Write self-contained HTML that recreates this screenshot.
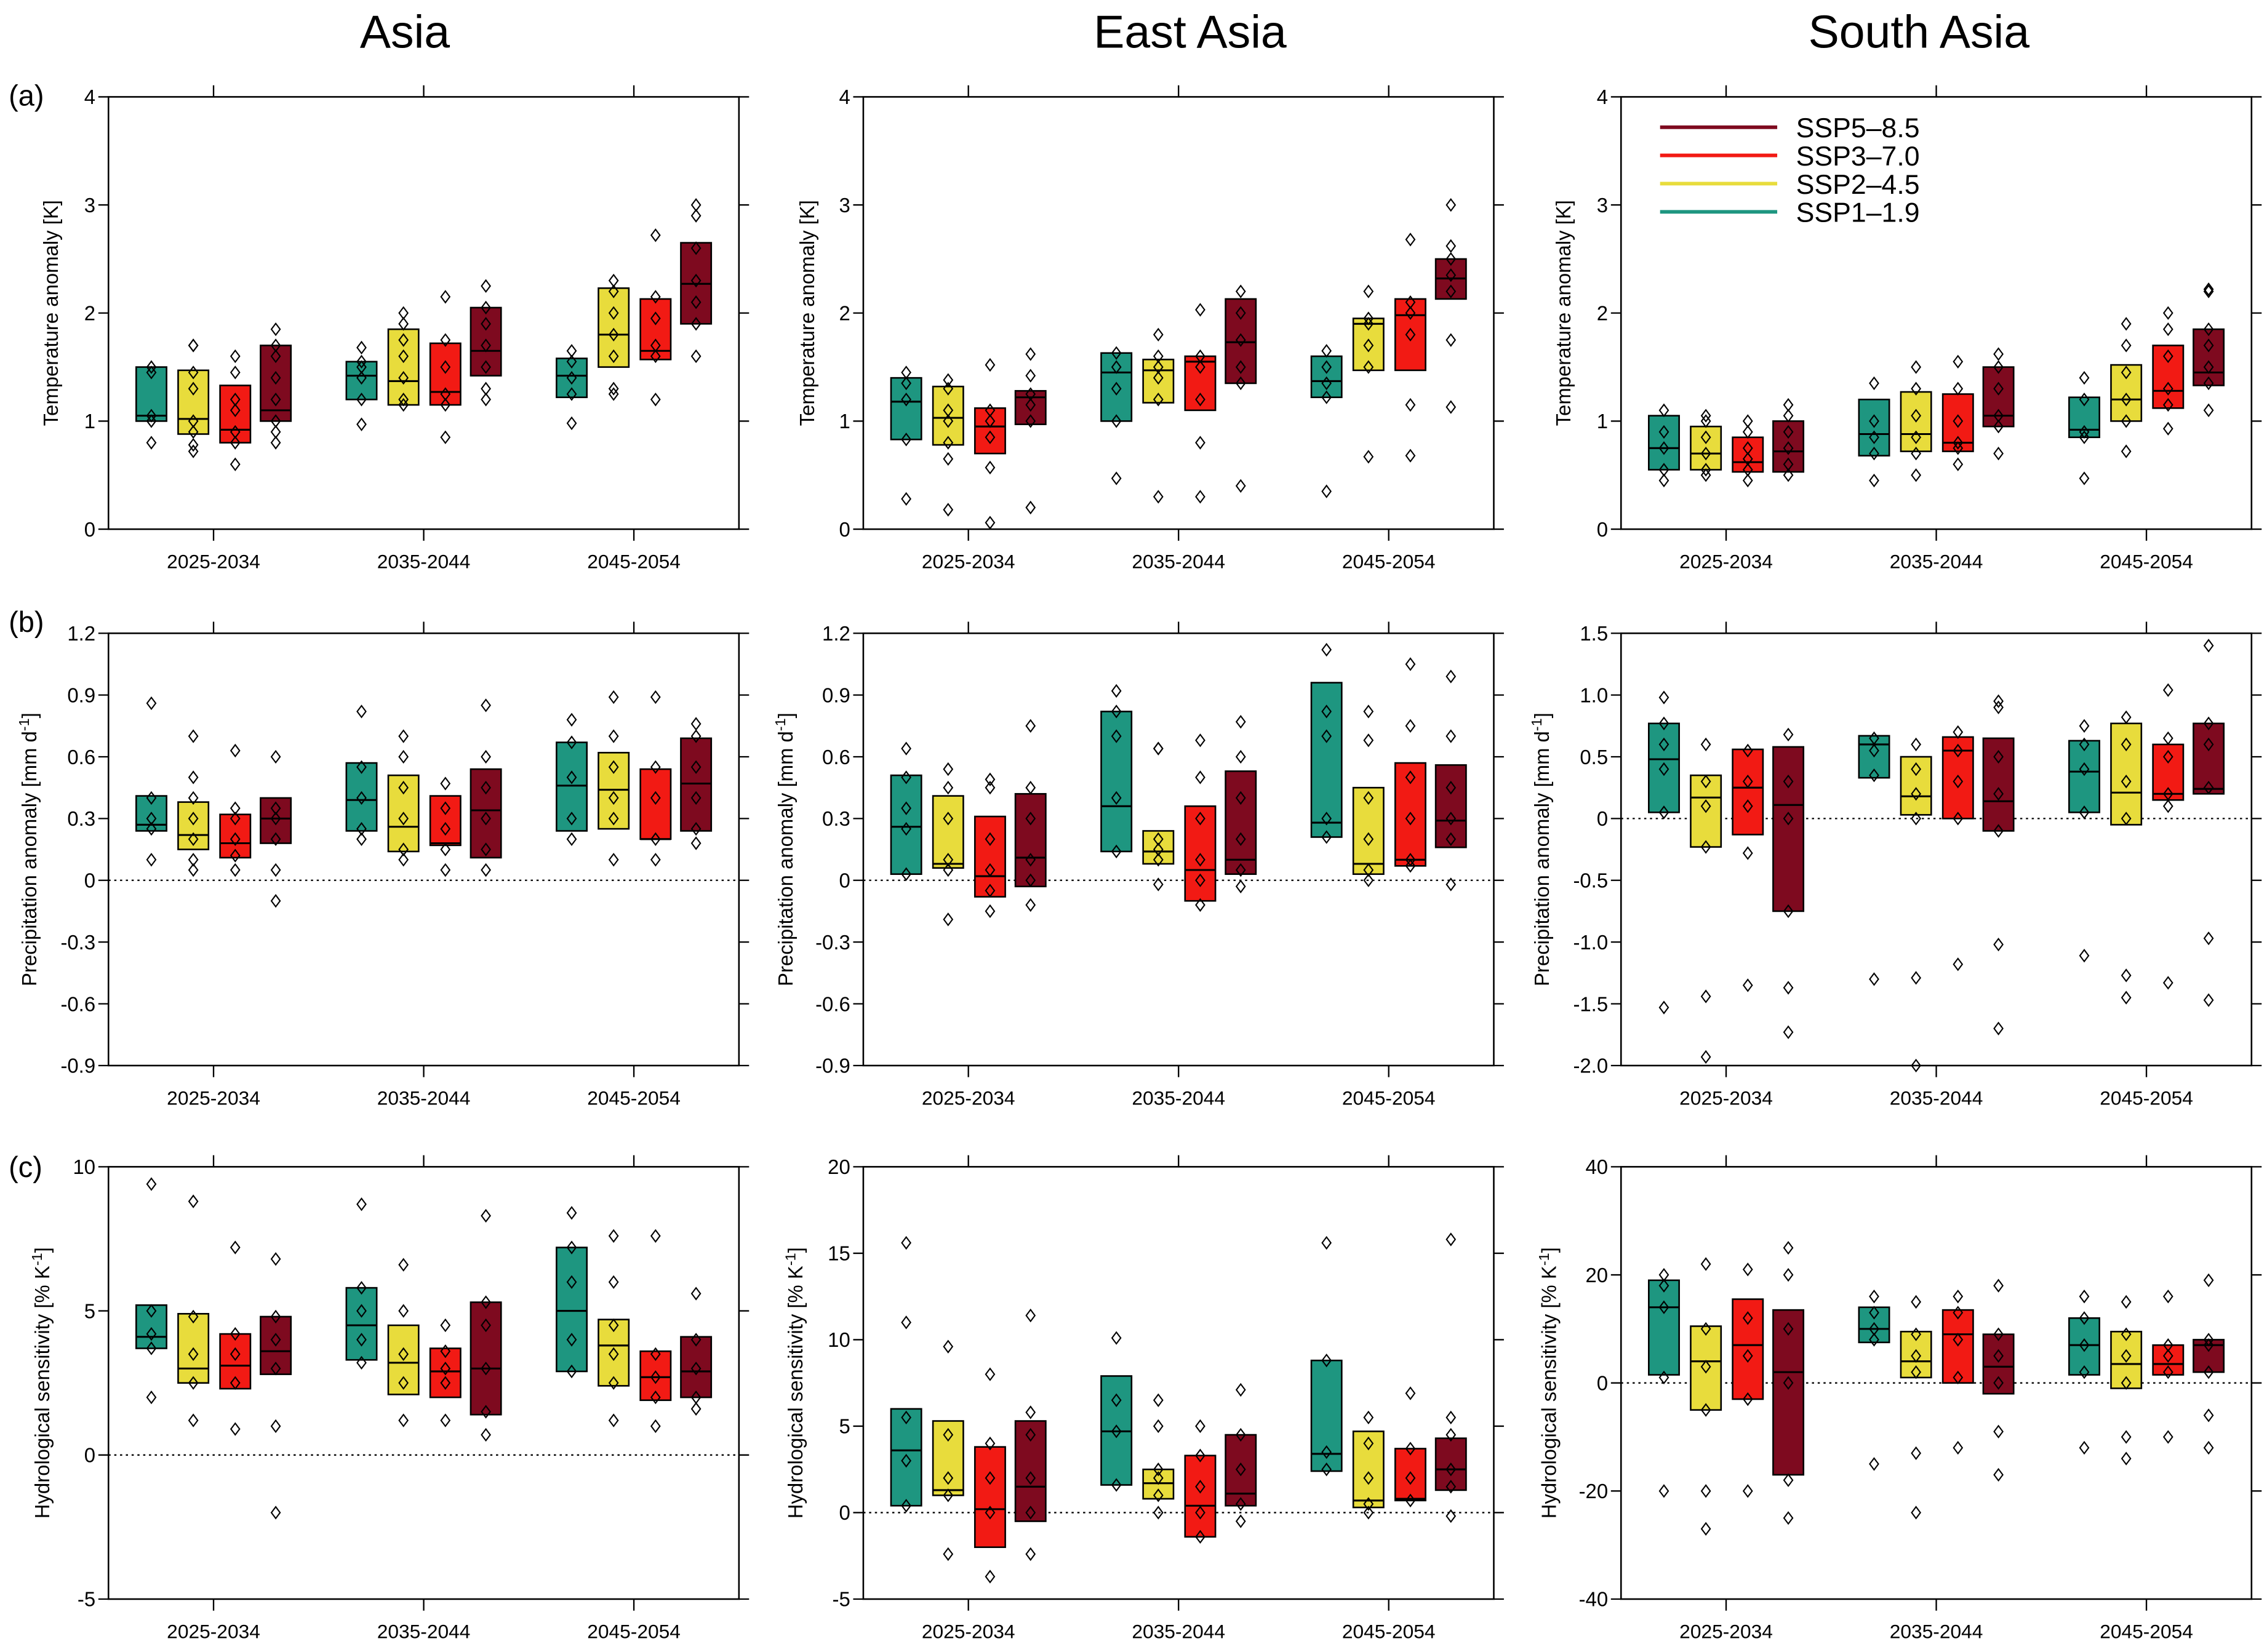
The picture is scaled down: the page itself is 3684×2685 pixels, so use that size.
<!DOCTYPE html>
<html><head><meta charset="utf-8"><style>
html,body{margin:0;padding:0;background:#fff;}
svg{display:block;font-family:"Liberation Sans",sans-serif;}
</style></head><body>
<svg id="fig" width="3684" height="2685" viewBox="0 0 1567.7 1142.6" xmlns="http://www.w3.org/2000/svg">
<rect x="0" y="0" width="1567.7" height="1142.6" fill="#fff"/>
<text x="280" y="33" font-size="32" text-anchor="middle">Asia</text>
<text x="823" y="33" font-size="32" text-anchor="middle">East Asia</text>
<text x="1327" y="33" font-size="32" text-anchor="middle">South Asia</text>
<text x="6" y="73" font-size="20">(a)</text>
<text x="6" y="437" font-size="20">(b)</text>
<text x="6" y="814" font-size="20">(c)</text>
<g id="plots"></g>
</svg>
<script>
const categories = ["2025-2034","2035-2044","2045-2054"];
const scenarios = ["SSP1-1.9","SSP2-4.5","SSP3-7.0","SSP5-8.5"];
const scenarioColors = ["#1e9680","#e8dc3c","#f21a14","#7e0a1f"];

// each array: 12 entries ordered group1(ssp1,ssp2,ssp3,ssp5), group2, group3
const asiaTempLo = [1.0,0.88,0.8,1.0, 1.2,1.15,1.15,1.42, 1.22,1.5,1.57,1.9];
const asiaTempHi = [1.5,1.47,1.33,1.7, 1.55,1.85,1.72,2.05, 1.58,2.23,2.13,2.65];
const asiaTempMed = [1.05,1.02,0.92,1.1, 1.42,1.37,1.27,1.65, 1.42,1.8,1.65,2.27];
const asiaTempPts = [[0.8,1.0,1.05,1.45,1.5],[0.72,0.78,0.9,1.0,1.3,1.45,1.7,1.7],[0.6,0.8,0.9,1.1,1.2,1.45,1.6],[0.8,0.9,1.0,1.2,1.4,1.6,1.7,1.85],
 [0.97,1.2,1.4,1.5,1.55,1.68],[1.15,1.2,1.4,1.6,1.75,1.9,2.0],[0.85,1.15,1.25,1.5,1.75,2.15],[1.2,1.3,1.5,1.7,1.9,2.05,2.25],
 [0.98,1.25,1.4,1.55,1.65],[1.25,1.3,1.6,1.8,2.0,2.2,2.3],[1.2,1.6,1.7,1.95,2.15,2.72],[1.6,1.9,2.1,2.3,2.6,2.9,3.0]];

const eaTempLo = [0.83,0.78,0.7,0.97, 1.0,1.17,1.1,1.35, 1.22,1.47,1.47,2.13];
const eaTempHi = [1.4,1.32,1.12,1.28, 1.63,1.57,1.6,2.13, 1.6,1.95,2.13,2.5];
const eaTempMed = [1.18,1.03,0.95,1.22, 1.45,1.47,1.55,1.73, 1.37,1.9,1.98,2.32];
const eaTempPts = [[0.28,0.83,1.2,1.35,1.45],[0.18,0.65,0.8,1.0,1.1,1.3,1.38],[0.06,0.57,0.85,1.0,1.1,1.52],[0.2,1.0,1.15,1.25,1.42,1.62],
 [0.47,1.0,1.3,1.5,1.63],[0.3,1.2,1.4,1.5,1.6,1.8],[0.3,0.8,1.2,1.5,1.6,2.03],[0.4,1.35,1.5,1.75,2.0,2.2],
 [0.35,1.22,1.35,1.5,1.65],[0.67,1.5,1.7,1.9,1.95,2.2],[0.68,1.15,1.8,2.0,2.1,2.68],[1.13,1.75,2.2,2.35,2.5,2.62,3.0]];

const saTempLo = [0.55,0.55,0.53,0.53, 0.68,0.72,0.72,0.95, 0.85,1.0,1.12,1.33];
const saTempHi = [1.05,0.95,0.85,1.0, 1.2,1.27,1.25,1.5, 1.22,1.52,1.7,1.85];
const saTempMed = [0.75,0.7,0.62,0.72, 0.88,0.88,0.8,1.05, 0.92,1.2,1.28,1.45];
const saTempPts = [[0.45,0.55,0.75,0.9,1.1],[0.5,0.55,0.7,0.85,1.0,1.05],[0.45,0.55,0.65,0.75,0.9,1.0],[0.5,0.6,0.75,0.9,1.05,1.15],
 [0.45,0.7,0.85,1.0,1.35],[0.5,0.7,0.85,1.05,1.3,1.5],[0.6,0.75,0.8,1.0,1.3,1.55],[0.7,0.95,1.05,1.3,1.5,1.62],
 [0.47,0.85,0.9,1.2,1.4],[0.72,1.0,1.2,1.45,1.7,1.9],[0.93,1.15,1.3,1.6,1.85,2.0],[1.1,1.35,1.5,1.7,1.85,2.2,2.22]];

const asiaPrLo = [0.24,0.15,0.11,0.18, 0.24,0.14,0.17,0.11, 0.24,0.25,0.2,0.24];
const asiaPrHi = [0.41,0.38,0.32,0.4, 0.57,0.51,0.41,0.54, 0.67,0.62,0.54,0.69];
const asiaPrMed = [0.27,0.22,0.18,0.3, 0.39,0.26,0.18,0.34, 0.46,0.44,0.2,0.47];
const asiaPrPts = [[0.1,0.25,0.3,0.4,0.86],[0.05,0.1,0.2,0.3,0.4,0.5,0.7],[0.05,0.12,0.2,0.3,0.35,0.63],[-0.1,0.05,0.2,0.3,0.35,0.6],
 [0.2,0.25,0.4,0.55,0.82],[0.1,0.15,0.3,0.45,0.6,0.7],[0.05,0.15,0.25,0.35,0.47],[0.05,0.15,0.3,0.45,0.6,0.85],
 [0.2,0.3,0.5,0.67,0.78],[0.1,0.3,0.4,0.55,0.7,0.89],[0.1,0.2,0.4,0.55,0.89],[0.18,0.25,0.4,0.55,0.7,0.76]];

const eaPrLo = [0.03,0.06,-0.08,-0.03, 0.14,0.08,-0.1,0.03, 0.21,0.03,0.07,0.16];
const eaPrHi = [0.51,0.41,0.31,0.42, 0.82,0.24,0.36,0.53, 0.96,0.45,0.57,0.56];
const eaPrMed = [0.26,0.08,0.02,0.11, 0.36,0.14,0.05,0.1, 0.28,0.08,0.1,0.29];
const eaPrPts = [[0.03,0.25,0.35,0.5,0.64],[-0.19,0.05,0.1,0.3,0.45,0.54],[-0.15,-0.05,0.05,0.2,0.45,0.49],[-0.12,0,0.1,0.3,0.45,0.75],
 [0.14,0.4,0.7,0.82,0.92],[-0.02,0.1,0.15,0.2,0.64,0.64],[-0.12,0,0.1,0.3,0.5,0.68],[-0.03,0.05,0.2,0.4,0.6,0.77],
 [0.21,0.3,0.7,0.82,1.12],[0,0.05,0.2,0.4,0.68,0.82],[0.07,0.1,0.3,0.5,0.75,1.05],[-0.02,0.2,0.3,0.45,0.7,0.99]];

const saPrLo = [0.05,-0.23,-0.13,-0.75, 0.33,0.03,0.0,-0.1, 0.05,-0.05,0.15,0.2];
const saPrHi = [0.77,0.35,0.56,0.58, 0.67,0.5,0.66,0.65, 0.63,0.77,0.6,0.77];
const saPrMed = [0.48,0.17,0.25,0.11, 0.6,0.18,0.55,0.14, 0.38,0.21,0.2,0.24];
const saPrPts = [[-1.53,0.05,0.4,0.6,0.77,0.98],[-1.93,-1.44,-0.23,0.1,0.3,0.6],[-1.35,-0.28,0.1,0.3,0.55],[-1.73,-1.37,-0.75,0,0.3,0.68],
 [-1.3,0.35,0.55,0.65],[-2.0,-1.29,0,0.2,0.4,0.6],[-1.18,0,0.3,0.55,0.7],[-1.7,-1.02,-0.1,0.2,0.5,0.9,0.95],
 [-1.11,0.05,0.4,0.6,0.75],[-1.27,-1.45,0,0.3,0.6,0.82],[-1.33,0.1,0.2,0.5,0.65,1.04],[-1.47,-0.97,0.25,0.6,0.77,1.4]];

const asiaHsLo = [3.7,2.5,2.3,2.8, 3.3,2.1,2.0,1.4, 2.9,2.4,1.9,2.0];
const asiaHsHi = [5.2,4.9,4.2,4.8, 5.8,4.5,3.7,5.3, 7.2,4.7,3.6,4.1];
const asiaHsMed = [4.1,3.0,3.1,3.6, 4.5,3.2,2.9,3.0, 5.0,3.8,2.7,2.9];
const asiaHsPts = [[2.0,3.7,4.2,5.0,9.4],[1.2,2.5,3.5,4.8,8.8],[0.9,2.5,3.5,4.2,7.2],[-2.0,1.0,3.0,4.0,4.8,6.8],
 [3.2,4.0,5.0,5.8,8.7],[1.2,2.5,3.5,5.0,6.6],[1.2,2.5,3.0,3.6,4.5],[0.7,1.5,3.0,4.5,5.3,8.3],
 [2.9,4.0,6.0,7.2,8.4],[1.2,2.5,3.5,4.5,6.0,7.6],[1.0,2.0,2.7,3.5,7.6],[1.6,2.0,3.0,4.0,5.6]];

const eaHsLo = [0.4,1.0,-2.0,-0.5, 1.6,0.8,-1.4,0.4, 2.4,0.3,0.7,1.3];
const eaHsHi = [6.0,5.3,3.8,5.3, 7.9,2.5,3.3,4.5, 8.8,4.7,3.7,4.3];
const eaHsMed = [3.6,1.3,0.2,1.5, 4.7,1.7,0.4,1.1, 3.4,0.7,0.8,2.5];
const eaHsPts = [[0.4,3.0,5.5,11.0,15.6],[-2.4,1.0,2.0,4.5,9.6],[-3.7,0,2.0,4.0,8.0],[-2.4,0,2.0,4.5,5.8,11.4],
 [1.6,4.7,6.5,10.1],[0,1.0,2.0,2.5,5.0,6.5],[-1.4,0,1.5,3.3,5.0],[-0.5,0.5,2.5,4.5,7.1],
 [2.5,3.5,8.8,15.6],[0,0.5,2.0,4.0,5.5],[0.7,2.0,3.7,6.9],[-0.2,1.5,2.5,4.5,5.5,15.8]];

const saHsLo = [1.5,-5,-3,-17, 7.5,1,0,-2, 1.5,-1,1.5,2];
const saHsHi = [19,10.5,15.5,13.5, 14,9.5,13.5,9, 12,9.5,7,8];
const saHsMed = [14,4,7,2, 10,4,9,3, 7,3.5,3.5,7];
const saHsPts = [[-20,1,14,18,20],[-27,-20,-5,3,10,22],[-20,-3,5,12,21],[-25,-18,0,10,20,25],
 [-15,8,10,13,16],[-24,-13,2,5,9,15],[-12,1,8,13,16],[-17,-9,0,5,9,18],
 [-12,2,7,12,16],[-14,-10,0,5,9,15],[-10,2,5,7,16],[-12,-6,2,7,8,19]];

const tempTicks = [0,1,2,3,4];
const prTicks = [-0.9,-0.6,-0.3,0,0.3,0.6,0.9,1.2];
const saPrTicks = [-2.0,-1.5,-1.0,-0.5,0,0.5,1.0,1.5];
const asiaHsTicks = [-5,0,5,10];
const eaHsTicks = [-5,0,5,10,15,20];
const saHsTicks = [-40,-20,0,20,40];

const NS = "http://www.w3.org/2000/svg";
const root = document.getElementById("plots");
function mk(tag, attrs, parent){const e=document.createElementNS(NS,tag);for(const k in attrs)e.setAttribute(k,attrs[k]);(parent||root).appendChild(e);return e;}

const colLeft=[75,597,1121], plotW=436;
const rowTop=[67,438,807], plotH=299;

function panel(col,row,name,lo,hi,med,pts,ticks,fmt,ylabel,zeroLine,ylabX){
  const g=mk("g",{});
  
  
  const L=colLeft[col], T=rowTop[row], R=L+plotW, B=T+plotH;
  const ymin=ticks[0], ymax=ticks[ticks.length-1];
  const y=v=>B-(v-ymin)/(ymax-ymin)*plotH;
  const xg=i=>L+plotW*(2*i+1)/6;
  const off=[-43,-14,15,43], bw=21;
  // frame
  const fr=mk("rect",{x:L,y:T,width:plotW,height:plotH,fill:"none",stroke:"#000","stroke-width":1.1},g);
  
  
  if(zeroLine){
    const z=mk("line",{x1:L,x2:R,y1:y(0),y2:y(0),stroke:"#000","stroke-width":1,"stroke-dasharray":"1.5,2.5"},g);
    
    
  }
  ticks.forEach(t=>{
    mk("line",{x1:L-7,x2:L,y1:y(t),y2:y(t),stroke:"#000","stroke-width":1},g);
    mk("line",{x1:R,x2:R+7,y1:y(t),y2:y(t),stroke:"#000","stroke-width":1},g);
    const tx=mk("text",{x:L-9,y:y(t)+5,"font-size":14,"text-anchor":"end"},g);
    tx.textContent=fmt(t);
    
    
  });
  categories.forEach((c,i)=>{
    mk("line",{x1:xg(i),x2:xg(i),y1:T-8,y2:T,stroke:"#000","stroke-width":1},g);
    mk("line",{x1:xg(i),x2:xg(i),y1:B,y2:B+8,stroke:"#000","stroke-width":1},g);
    const tx=mk("text",{x:xg(i),y:B+27,"font-size":13.5,"text-anchor":"middle"},g);
    tx.textContent=c;
    
    
  });
  for(let i=0;i<3;i++)for(let s=0;s<4;s++){
    const k=i*4+s, cx=xg(i)+off[s];
    const r=mk("rect",{x:cx-bw/2,y:y(hi[k]),width:bw,height:y(lo[k])-y(hi[k]),fill:scenarioColors[s],stroke:"#000","stroke-width":1.1},g);
    
    
    const m=mk("line",{x1:cx-bw/2,x2:cx+bw/2,y1:y(med[k]),y2:y(med[k]),stroke:"#000","stroke-width":1.3},g);
    
    
    pts[k].forEach(v=>{
      const py=y(v);
      const p=mk("path",{d:`M${cx},${py-4}L${cx+3},${py}L${cx},${py+4}L${cx-3},${py}Z`,fill:"none",stroke:"#000","stroke-width":0.9},g);
      
      
    });
  }
  const yl=mk("text",{x:0,y:0,"font-size":14,"text-anchor":"middle",transform:`translate(${ylabX},${(T+B)/2}) rotate(-90)`},g);
  yl.innerHTML=ylabel;
  
  
}
const f0=t=>String(t), f1=t=>t===0?"0":t.toFixed(1);
const tl="Temperature anomaly [K]";
const pl='Precipitation anomaly  [mm d<tspan dy="-5" font-size="10">-1</tspan><tspan dy="5">]</tspan>';
const hl='Hydrological sensitivity [% K<tspan dy="-5" font-size="10">-1</tspan><tspan dy="5">]</tspan>';
panel(0,0,"asia-temp",asiaTempLo,asiaTempHi,asiaTempMed,asiaTempPts,tempTicks,f0,tl,false,40);
panel(1,0,"east-asia-temp",eaTempLo,eaTempHi,eaTempMed,eaTempPts,tempTicks,f0,tl,false,563);
panel(2,0,"south-asia-temp",saTempLo,saTempHi,saTempMed,saTempPts,tempTicks,f0,tl,false,1086);
panel(0,1,"asia-precip",asiaPrLo,asiaPrHi,asiaPrMed,asiaPrPts,prTicks,f1,pl,true,25);
panel(1,1,"east-asia-precip",eaPrLo,eaPrHi,eaPrMed,eaPrPts,prTicks,f1,pl,true,548);
panel(2,1,"south-asia-precip",saPrLo,saPrHi,saPrMed,saPrPts,saPrTicks,f1,pl,true,1071);
panel(0,2,"asia-hydro",asiaHsLo,asiaHsHi,asiaHsMed,asiaHsPts,asiaHsTicks,f0,hl,true,34);
panel(1,2,"east-asia-hydro",eaHsLo,eaHsHi,eaHsMed,eaHsPts,eaHsTicks,f0,hl,true,555);
panel(2,2,"south-asia-hydro",saHsLo,saHsHi,saHsMed,saHsPts,saHsTicks,f0,hl,true,1076);

// legend
const lg=mk("g",{});


[3,2,1,0].forEach((s,j)=>{
  const yy=88+j*19.5;
  const ln=mk("line",{x1:1148,x2:1229,y1:yy,y2:yy,stroke:scenarioColors[s],"stroke-width":2.5},lg);
  
  
  const t=mk("text",{x:1242,y:yy+7,"font-size":19},lg);
  t.textContent=scenarios[s].replace("-","\u2013");
  
  
});
</script>
</body></html>
